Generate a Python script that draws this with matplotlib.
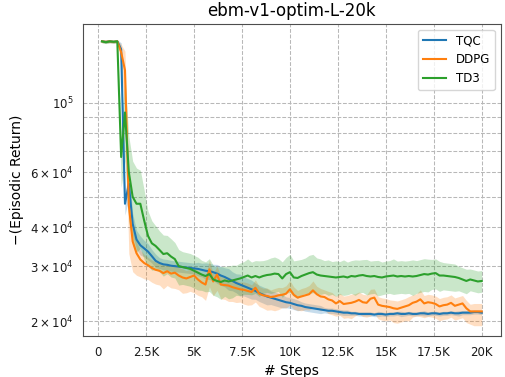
import numpy as np
import matplotlib
matplotlib.use('Agg')
import matplotlib.pyplot as plt
from matplotlib.ticker import FuncFormatter

# evaluation steps
steps = np.arange(200, 20001, 200)

# -(episodic return), in thousands
tqc = [157, 156.5, 157, 156.5, 157, 148, 47.5, 55, 41, 36.5,
       35, 34.2, 33.4, 32.3, 31.2, 30.7, 30.4, 30.3, 30.1, 30.0,
       29.9, 29.8, 29.7, 29.6, 29.5, 29.4, 29.2, 29.0, 28.9, 28.7,
       28.4, 28.0, 27.7, 27.3, 26.9, 26.5, 26.2, 25.9, 25.6, 25.3,
       25.0, 24.6, 24.3, 24.0, 23.8, 23.6, 23.4, 23.2, 23.0, 22.9,
       22.7, 22.5, 22.4, 22.2, 22.1, 22.0, 21.9, 21.8, 21.7, 21.6,
       21.6, 21.5, 21.4, 21.3, 21.3, 21.2, 21.2, 21.1, 21.1, 21.1,
       21.1, 21.0, 21.1, 21.1, 21.0, 21.1, 21.1, 21.2, 21.1, 21.1,
       21.2, 21.1, 21.1, 21.2, 21.2, 21.1, 21.2, 21.2, 21.1, 21.2,
       21.2, 21.3, 21.2, 21.2, 21.3, 21.3, 21.3, 21.4, 21.4, 21.3]

ddpg = [157, 156.5, 157, 156.5, 157, 145, 127, 47, 36, 33,
        31.5, 30.7, 30.2, 29.6, 29.2, 29.0, 28.5, 28.9, 28.4, 28.6,
        28.0, 27.6, 27.4, 27.7, 28.0, 27.2, 26.6, 26.2, 29.3, 26.8,
        28.2, 26.2, 26.1, 26.0, 25.7, 25.5, 25.3, 25.2, 25.0, 24.8,
        25.6, 24.5, 24.2, 24.1, 23.9, 24.0, 24.2, 24.3, 24.5, 25.3,
        24.3, 23.8, 24.0, 24.2, 24.4, 25.1, 24.4, 24.0, 23.9, 23.5,
        23.3, 22.8, 23.2, 22.7, 22.8, 22.9, 23.1, 23.4, 23.0, 22.9,
        23.6, 23.8, 22.6, 22.4, 22.3, 22.2, 22.0, 21.9, 22.1, 22.3,
        22.5, 22.9, 23.1, 23.5, 22.8, 23.0, 22.9, 22.7, 22.3, 22.5,
        22.6, 22.9, 22.4, 22.6, 22.8, 22.0, 21.5, 21.5, 21.5, 21.5]

td3 = [157, 156, 157, 156.5, 157, 67, 93, 60, 50, 47.5,
       47.5, 42, 37.5, 35.5, 34.8, 33.8, 32.8, 33.0, 32.2, 31.6,
       30.0, 29.8, 29.6, 29.4, 29.0, 28.6, 28.2, 27.9, 28.3, 27.2,
       26.9, 26.7, 27.0, 26.8, 27.0, 27.2, 27.4, 27.7, 28.0, 27.6,
       27.9, 27.6, 27.9, 28.1, 28.2, 28.4, 28.3, 27.4, 28.3, 28.7,
       27.6, 27.5, 27.9, 28.2, 28.5, 28.7, 28.2, 28.0, 27.9, 27.8,
       27.7, 27.6, 27.7, 27.8, 27.6, 27.9, 27.8, 28.0, 28.1, 27.9,
       27.8, 27.9, 27.7, 27.6, 27.8, 27.9, 28.0, 27.8, 27.9, 27.8,
       27.9, 27.8, 27.9, 28.1, 28.3, 28.2, 28.4, 28.5, 28.0, 28.0,
       27.9, 27.8, 27.7, 27.5, 27.2, 26.9, 27.2, 27.0, 26.8, 26.9]

# relative spread of the shaded band
tqc_sd = [0.01, 0.01, 0.01, 0.01, 0.01, 0.05, 0.08, 0.10, 0.08, 0.07,
          0.07, 0.06, 0.06, 0.05, 0.05, 0.04, 0.04, 0.04, 0.04, 0.04,
          0.04, 0.04, 0.04, 0.04, 0.04, 0.05, 0.05, 0.06, 0.06, 0.06,
          0.07, 0.07, 0.07, 0.08, 0.07, 0.07, 0.08, 0.07, 0.07, 0.07,
          0.06, 0.06, 0.06, 0.06, 0.05, 0.05, 0.05, 0.05, 0.04, 0.04,
          0.04, 0.04, 0.03, 0.03, 0.03, 0.03, 0.03, 0.03, 0.02, 0.02,
          0.02, 0.02, 0.02, 0.02, 0.02, 0.015, 0.015, 0.015, 0.015, 0.015,
          0.015, 0.015, 0.02, 0.015, 0.015, 0.015, 0.015, 0.015, 0.02, 0.015,
          0.015, 0.015, 0.015, 0.015, 0.02, 0.015, 0.015, 0.015, 0.015, 0.015,
          0.015, 0.015, 0.015, 0.02, 0.015, 0.015, 0.015, 0.015, 0.015, 0.015]

ddpg_sd = [0.01, 0.01, 0.01, 0.01, 0.01, 0.10, 0.25, 0.30, 0.20, 0.15,
           0.12, 0.11, 0.10, 0.10, 0.10, 0.10, 0.11, 0.10, 0.10, 0.11,
           0.10, 0.11, 0.10, 0.10, 0.12, 0.11, 0.10, 0.11, 0.12, 0.10,
           0.11, 0.10, 0.10, 0.11, 0.10, 0.10, 0.09, 0.10, 0.10, 0.09,
           0.10, 0.09, 0.09, 0.10, 0.09, 0.10, 0.10, 0.09, 0.10, 0.11,
           0.10, 0.09, 0.10, 0.10, 0.11, 0.12, 0.10, 0.10, 0.09, 0.10,
           0.10, 0.09, 0.10, 0.10, 0.10, 0.11, 0.10, 0.10, 0.10, 0.10,
           0.12, 0.11, 0.10, 0.10, 0.10, 0.09, 0.10, 0.10, 0.10, 0.10,
           0.11, 0.10, 0.10, 0.12, 0.10, 0.10, 0.10, 0.10, 0.10, 0.10,
           0.10, 0.10, 0.10, 0.10, 0.10, 0.10, 0.09, 0.10, 0.10, 0.10]

td3_sd = [0.01, 0.01, 0.01, 0.01, 0.01, 0.20, 0.30, 0.30, 0.30, 0.30,
          0.28, 0.25, 0.20, 0.18, 0.16, 0.15, 0.15, 0.14, 0.14, 0.13,
          0.13, 0.12, 0.12, 0.12, 0.12, 0.12, 0.11, 0.11, 0.12, 0.11,
          0.11, 0.12, 0.11, 0.12, 0.12, 0.11, 0.12, 0.12, 0.13, 0.12,
          0.12, 0.13, 0.12, 0.12, 0.13, 0.13, 0.12, 0.13, 0.13, 0.14,
          0.13, 0.14, 0.13, 0.13, 0.14, 0.14, 0.13, 0.13, 0.12, 0.13,
          0.12, 0.13, 0.12, 0.13, 0.12, 0.12, 0.13, 0.12, 0.12, 0.13,
          0.12, 0.12, 0.13, 0.12, 0.12, 0.12, 0.13, 0.12, 0.12, 0.12,
          0.12, 0.13, 0.12, 0.12, 0.12, 0.12, 0.11, 0.11, 0.11, 0.10,
          0.10, 0.10, 0.10, 0.09, 0.09, 0.09, 0.08, 0.08, 0.08, 0.08]

labels = ['TQC', 'DDPG', 'TD3']
colors = ['#1f77b4', '#ff7f0e', '#2ca02c']
means = [tqc, ddpg, td3]
spreads = [tqc_sd, ddpg_sd, td3_sd]
# how much of the spread goes above the mean
upper_part = [1.0, 0.6, 1.0]

fig = plt.figure(figsize=(5.06, 3.77), dpi=100)
ax = fig.add_axes([0.164, 0.109, 0.8255, 0.8275])

for lab, c, m, sd, up in zip(labels, colors, means, spreads, upper_part):
    m = np.array(m) * 1000
    sd = np.array(sd)
    ax.fill_between(steps, m * (1 - sd), m * (1 + up * sd), color=c,
                    alpha=0.25, linewidth=0)
    ax.plot(steps, m, color=c, linewidth=1.5, label=lab)

ax.set_yscale('log')
ax.set_ylim(17950, 178500)
ax.set_xticks(np.arange(0, 20001, 2500))
ax.xaxis.set_major_formatter(
    FuncFormatter(lambda v, p: '0' if v == 0 else '%gK' % (v / 1000)))

ax.grid(True, which='both', axis='y', color='#b8b8b8', linestyle='--',
        linewidth=0.75)
ax.grid(True, which='major', axis='x', color='#b8b8b8', linestyle='--',
        linewidth=0.75)
ax.set_axisbelow(True)
ax.tick_params(which='both', labelsize=8.5, colors='0.1', length=0, pad=7)
for s in ax.spines.values():
    s.set_color('0.3')

ax.set_title('ebm-v1-optim-L-20k', fontsize=12)
ax.set_xlabel('# Steps', fontsize=10)
ax.set_ylabel('\u2212(Episodic Return)', fontsize=10)
ax.legend(loc='upper right', fontsize=8.5)

fig.savefig('out.png', dpi=100)
